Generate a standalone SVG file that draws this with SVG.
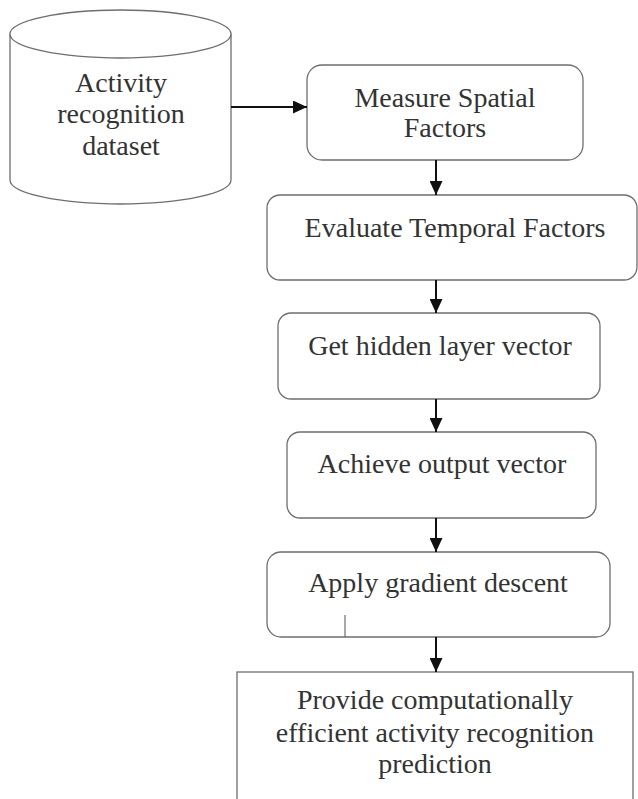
<svg xmlns="http://www.w3.org/2000/svg" width="638" height="799" viewBox="0 0 638 799">
<defs>
<style>
.box{fill:#fff;stroke:#6e6e6e;stroke-width:1.3}
.t{font-family:'Liberation Serif','Times New Roman',Times,serif;font-size:28px;fill:#333;text-anchor:middle}
.c{stroke:#111;stroke-width:2;fill:none}
</style>
<marker id="ah" markerWidth="14" markerHeight="13" viewBox="0 0 14 13" refX="14" refY="6.5" orient="auto" markerUnits="userSpaceOnUse">
<path d="M0,0 L14,6.5 L0,13 Z" fill="#111"/>
</marker>
</defs>
<rect width="638" height="799" fill="#fff"/>
<g id="dataset">
<path class="box" d="M10,34 A110.5,24 0 0 1 231,34 L231,180 A110.5,24 0 0 1 10,180 Z"/>
<path class="box" d="M10,34 A110.5,24 0 0 0 231,34"/>
<text class="t" font-family="Liberation Serif" x="121" y="92">Activity</text>
<text class="t" font-family="Liberation Serif" x="121" y="123">recognition</text>
<text class="t" font-family="Liberation Serif" x="121" y="155">dataset</text>
</g>
<g id="measure">
<rect class="box" x="307" y="65" width="276" height="95" rx="15"/>
<text class="t" font-family="Liberation Serif" x="445" y="107">Measure Spatial</text>
<text class="t" font-family="Liberation Serif" x="445" y="137">Factors</text>
</g>
<g id="evaluate">
<rect class="box" x="267" y="195" width="370" height="85" rx="13"/>
<text class="t" font-family="Liberation Serif" x="455" y="237">Evaluate Temporal Factors</text>
</g>
<g id="hidden">
<rect class="box" x="278" y="313" width="322" height="86" rx="13"/>
<text class="t" font-family="Liberation Serif" x="440" y="355">Get hidden layer vector</text>
</g>
<g id="output">
<rect class="box" x="287" y="432" width="309" height="86" rx="13"/>
<text class="t" font-family="Liberation Serif" x="442" y="473">Achieve output vector</text>
</g>
<g id="gradient">
<rect class="box" x="267" y="552" width="343" height="85" rx="14"/>
<text class="t" font-family="Liberation Serif" x="438" y="592">Apply gradient descent</text>
<line x1="345" y1="615" x2="345" y2="637" stroke="#6e6e6e" stroke-width="1.2"/>
</g>
<g id="prediction">
<rect class="box" x="237" y="672" width="396" height="140"/>
<text class="t" font-family="Liberation Serif" x="435" y="709">Provide computationally</text>
<text class="t" font-family="Liberation Serif" x="435" y="742">efficient activity recognition</text>
<text class="t" font-family="Liberation Serif" x="435" y="773">prediction</text>
</g>
<g id="connectors">
<line class="c" x1="231" y1="107" x2="307" y2="107" marker-end="url(#ah)"/>
<line class="c" x1="436" y1="160" x2="436" y2="195" marker-end="url(#ah)"/>
<line class="c" x1="436" y1="280" x2="436" y2="313" marker-end="url(#ah)"/>
<line class="c" x1="436" y1="399" x2="436" y2="432" marker-end="url(#ah)"/>
<line class="c" x1="436" y1="518" x2="436" y2="552" marker-end="url(#ah)"/>
<line class="c" x1="436" y1="637" x2="436" y2="672" marker-end="url(#ah)"/>
</g>
</svg>
